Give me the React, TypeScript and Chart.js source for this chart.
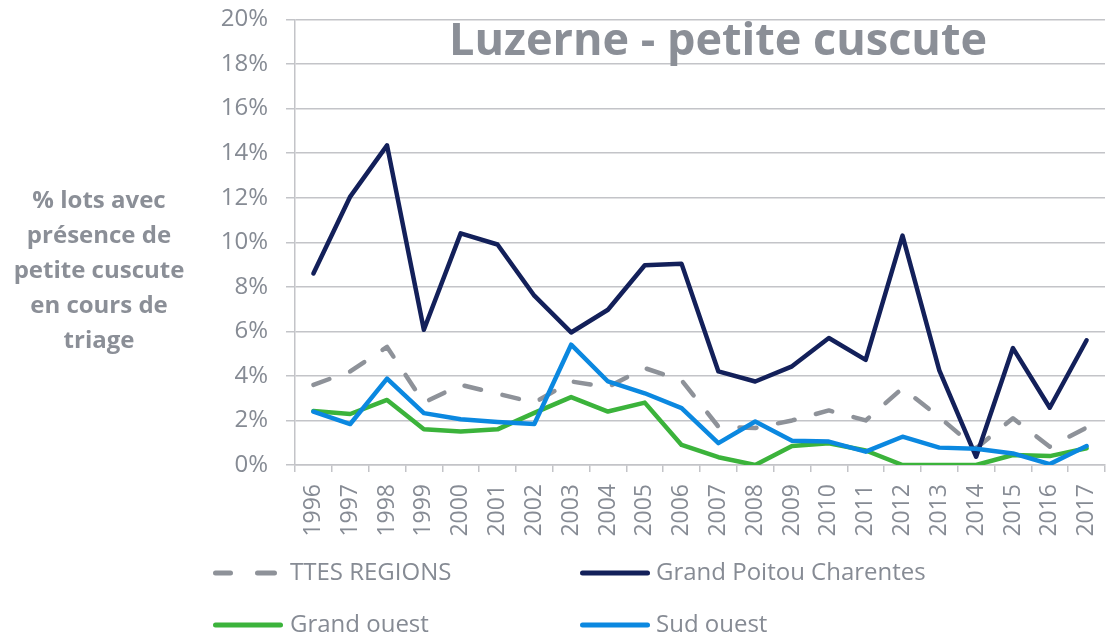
import React, { useEffect, useRef } from "react";
import { Chart, registerables } from "chart.js";

Chart.register(...registerables);

const years = ["1996","1997","1998","1999","2000","2001","2002","2003","2004","2005","2006","2007","2008","2009","2010","2011","2012","2013","2014","2015","2016","2017"];
const ttesRegions = [3.6, 4.2, 5.3, 2.8, 3.6, 3.2, 2.8, 3.75, 3.5, 4.35, 3.8, 1.72, 1.66, 2.0, 2.45, 2.0, 3.45, 2.15, 0.75, 2.1, 0.82, 1.68];
const grandPoitou = [8.6, 12.05, 14.35, 6.07, 10.4, 9.9, 7.6, 5.95, 6.97, 8.97, 9.03, 4.2, 3.75, 4.43, 5.7, 4.72, 10.3, 4.25, 0.37, 5.25, 2.57, 5.6];
const grandOuest = [2.42, 2.29, 2.92, 1.6, 1.5, 1.6, 2.34, 3.05, 2.4, 2.8, 0.9, 0.35, 0, 0.85, 0.98, 0.65, 0, 0, 0, 0.45, 0.4, 0.75];
const sudOuest = [2.4, 1.84, 3.88, 2.33, 2.05, 1.93, 1.84, 5.4, 3.75, 3.22, 2.55, 0.98, 1.95, 1.09, 1.05, 0.6, 1.27, 0.78, 0.73, 0.52, 0.04, 0.85];

const seriesNames = ["TTES REGIONS", "Grand Poitou Charentes", "Grand ouest", "Sud ouest"];
const seriesColors = ["#8e9299", "#13205a", "#3bb33b", "#0b88e0"];
const titleText = "Luzerne - petite cuscute";
const yTitleLines = ["% lots avec", "présence de", "petite cuscute", "en cours de", "triage"];

const textGray = "#868b94";
const titleGray = "#8b8f97";
const gridGray = "#c3c4c8";
const FONT = "'Open Sans', 'Noto Sans', sans-serif";

const overlayPlugin = {
  id: "overlay",
  afterDraw(chart: any) {
    const ctx = chart.ctx as CanvasRenderingContext2D;
    const area = chart.chartArea;
    ctx.save();
    // Title inside plot area
    ctx.fillStyle = titleGray;
    ctx.font = `bold 45px ${FONT}`;
    ctx.textAlign = "center";
    ctx.textBaseline = "alphabetic";
    ctx.fillText(titleText, area.left + (area.right - area.left) / 2 + 18, area.top + 35.5);

    // Y axis title (horizontal, multi-line)
    ctx.font = `bold 24px ${FONT}`;
    ctx.fillStyle = titleGray;
    yTitleLines.forEach((line, i) => {
      ctx.fillText(line, 99, 208 + i * 35);
    });

    // Legend
    ctx.font = `24px ${FONT}`;
    ctx.textAlign = "left";
    ctx.textBaseline = "middle";
    const cols = [213, 580];
    const rows = [573, 625];
    seriesNames.forEach((name, i) => {
      const x = cols[i % 2];
      const y = rows[Math.floor(i / 2)];
      ctx.strokeStyle = seriesColors[i];
      ctx.lineWidth = 5;
      ctx.lineCap = "round";
      ctx.beginPath();
      if (i === 0) {
        ctx.moveTo(x + 2.5, y);
        ctx.lineTo(x + 17.5, y);
        ctx.moveTo(x + 44.5, y);
        ctx.lineTo(x + 61.5, y);
      } else {
        ctx.moveTo(x + 2.5, y);
        ctx.lineTo(x + 67.5, y);
      }
      ctx.stroke();
      ctx.fillStyle = textGray;
      ctx.fillText(name, x + (i === 0 ? 77 : i % 2 === 0 ? 77 : 76), y);
    });
    ctx.restore();
  },
};

export default function App() {
  const ref = useRef<HTMLCanvasElement | null>(null);
  useEffect(() => {
    document.body.style.margin = "0";
    document.body.style.background = "#ffffff";
    const canvas = ref.current;
    if (!canvas) return;
    const mk = (i: number, data: number[], order: number, dash?: number[]) => ({
      label: seriesNames[i],
      data,
      borderColor: seriesColors[i],
      backgroundColor: seriesColors[i],
      borderWidth: 4.5,
      borderCapStyle: "round" as const,
      borderJoinStyle: "round" as const,
      borderDash: dash || [],
      pointRadius: 0,
      tension: 0,
      fill: false,
      order,
    });
    const chart = new Chart(canvas, {
      type: "line",
      data: {
        labels: years,
        datasets: [
          mk(0, ttesRegions, 3, [17, 22]),
          mk(1, grandPoitou, 2),
          mk(2, grandOuest, 1),
          mk(3, sudOuest, 0),
        ],
      },
      plugins: [overlayPlugin],
      options: {
        responsive: false,
        animation: false,
        devicePixelRatio: 1,
        layout: { padding: { left: 0, right: 9, top: 19.5, bottom: 0 } },
        plugins: {
          legend: { display: false },
          title: { display: false },
          tooltip: { enabled: false },
        },
        scales: {
          x: {
            offset: true,
            afterFit: (scale: any) => {
              scale.height = 176;
              scale.paddingLeft = 0;
              scale.paddingRight = 0;
            },
            grid: {
              offset: true,
              drawOnChartArea: false,
              drawTicks: true,
              tickLength: 7,
              color: gridGray,
              lineWidth: 1.5,
            },
            border: { display: true, color: gridGray, width: 1.5 },
            ticks: {
              autoSkip: false,
              maxRotation: 90,
              minRotation: 90,
              padding: 12,
              color: textGray,
              font: { family: FONT, size: 23 },
            },
          },
          y: {
            min: 0,
            max: 20,
            afterFit: (scale: any) => {
              scale.width = 295;
              scale.paddingTop = 0;
              scale.paddingBottom = 0;
            },
            grid: {
              color: gridGray,
              lineWidth: 1.5,
              tickLength: 9,
              drawTicks: true,
            },
            border: { display: true, color: gridGray, width: 1.5 },
            ticks: {
              stepSize: 2,
              padding: 18,
              color: textGray,
              font: { family: FONT, size: 24 },
              callback: (v: any) => `${v}%`,
            },
          },
        },
      },
    });
    return () => chart.destroy();
  }, []);
  return (
    <canvas ref={ref} width={1114} height={641} style={{ display: "block", width: 1114, height: 641 }} />
  );
}
